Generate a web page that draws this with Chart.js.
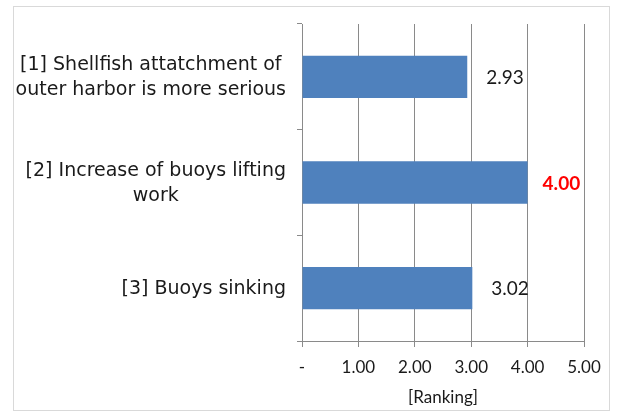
<!DOCTYPE html>
<html>
<head>
<meta charset="utf-8">
<script src="https://cdn.jsdelivr.net/npm/chart.js@4/dist/chart.umd.min.js"></script>
<style>
  html, body { margin: 0; padding: 0; background: #fff; }
  #wrap { position: relative; width: 619px; height: 416px; }
  #frame { position: absolute; left: 13px; top: 6px; width: 597px; height: 405px; border: 1px solid #d9d9d9; box-sizing: border-box; pointer-events: none; }
  canvas { position: absolute; left: 0; top: 0; }
</style>
</head>
<body>
<div id="wrap">
  <div id="frame"></div>
  <canvas id="chart" width="619" height="416"></canvas>
</div>
<script>
// Survey items, each split into the lines it is printed on
const categories = [
  ['[1] Shellfish attatchment of', 'outer harbor is more serious'],
  ['[2] Increase of buoys lifting', 'work'],
  ['[3] Buoys sinking']
];
// Average ranking per item
const rankingValues = [2.93, 4.00, 3.02];
// Axis ticks
const xTickValues = [0, 1, 2, 3, 4, 5];
const xTickLabels = ['-', '1.00', '2.00', '3.00', '4.00', '5.00'];
const xAxisTitle = '[Ranking]';

const AXIS_GREY = '#8a8a8a';
const BAR_BLUE = '#4f81bd';
const TEXT = '#1a1a1a';
const LABEL_FONT = '19px "DejaVu Sans", "Open Sans", sans-serif';
const NUM_FONT = 'Lato, "Open Sans", sans-serif';

const topIndex = rankingValues.indexOf(Math.max(...rankingValues));

// Category labels: each block is right-aligned against the axis,
// with its lines centred on one another.
const categoryLabels = {
  id: 'categoryLabels',
  afterDraw(chart) {
    const ctx = chart.ctx;
    const yScale = chart.scales.y;
    const right = yScale.right - 16;
    const lineH = 25;
    ctx.save();
    ctx.font = LABEL_FONT;
    ctx.fillStyle = TEXT;
    ctx.textAlign = 'center';
    ctx.textBaseline = 'middle';
    categories.forEach((lines, i) => {
      const cy = yScale.getPixelForTick(i) + 1;
      const w = Math.max(...lines.map(l => ctx.measureText(l).width));
      const cx = right - w / 2;
      const y0 = cy - (lines.length - 1) * lineH / 2;
      lines.forEach((l, j) => ctx.fillText(l, cx, y0 + j * lineH));
    });
    ctx.restore();
  }
};

// Value printed to the right of each bar
const valueLabels = {
  id: 'valueLabels',
  afterDatasetsDraw(chart) {
    const ctx = chart.ctx;
    const meta = chart.getDatasetMeta(0);
    ctx.save();
    ctx.textAlign = 'left';
    ctx.textBaseline = 'middle';
    meta.data.forEach((bar, i) => {
      const hot = i === topIndex;
      ctx.font = (hot ? 'bold ' : '') + '19px ' + NUM_FONT;
      ctx.fillStyle = hot ? '#ff0000' : TEXT;
      ctx.fillText(rankingValues[i].toFixed(2), bar.x + (hot ? 15 : 19), bar.y + 1);
    });
    ctx.restore();
  }
};

new Chart(document.getElementById('chart'), {
  type: 'bar',
  data: {
    labels: categories,
    datasets: [{
      data: rankingValues,
      backgroundColor: BAR_BLUE,
      borderWidth: 0,
      barPercentage: 0.4,
      categoryPercentage: 1.0
    }]
  },
  options: {
    indexAxis: 'y',
    responsive: false,
    animation: false,
    devicePixelRatio: 1,
    layout: { padding: { left: 0, right: 35, top: 24, bottom: 8 } },
    plugins: { legend: { display: false }, tooltip: { enabled: false } },
    scales: {
      x: {
        type: 'linear',
        min: 0,
        max: 5,
        afterBuildTicks(scale) { scale.ticks = xTickValues.map(v => ({ value: v })); },
        afterFit(scale) { scale.height = 67; },
        grid: { color: AXIS_GREY, lineWidth: 1, tickLength: 6, drawTicks: true },
        border: { display: true, color: AXIS_GREY, width: 1 },
        ticks: {
          color: TEXT,
          font: { family: NUM_FONT, size: 17 },
          padding: 10,
          maxRotation: 0,
          callback(value, index) { return xTickLabels[index]; }
        },
        title: {
          display: true,
          text: xAxisTitle,
          color: TEXT,
          font: { family: NUM_FONT, size: 17 },
          padding: { top: 2, bottom: 0 }
        }
      },
      y: {
        type: 'category',
        offset: true,
        afterFit(scale) { scale.width = 302; },
        grid: { offset: true, drawOnChartArea: false, color: AXIS_GREY, tickLength: 5 },
        border: { display: true, color: AXIS_GREY, width: 1 },
        ticks: { display: false }
      }
    }
  },
  plugins: [categoryLabels, valueLabels]
});
</script>
</body>
</html>
